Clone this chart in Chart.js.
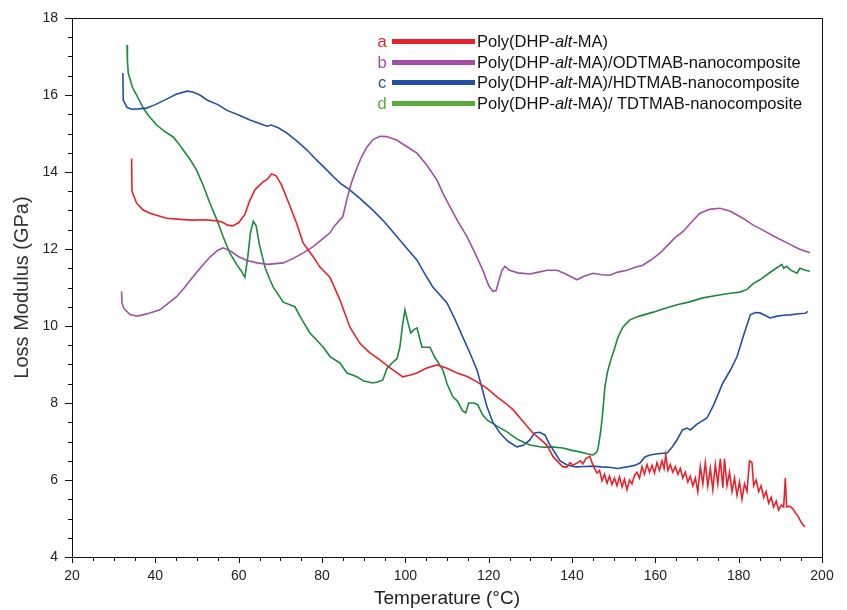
<!DOCTYPE html>
<html>
<head>
<meta charset="utf-8">
<script src="https://cdn.jsdelivr.net/npm/chart.js@4.4.1/dist/chart.umd.min.js"></script>
<style>
    body { margin: 0; background: #fff; }
    #wrap { position: relative; width: 847px; height: 610px; }
    #legend { position: absolute; left: 375px; top: 31px; font-family: 'Liberation Sans', Arial, sans-serif; font-size: 16.5px; color: #111; }
    .row { height: 20.7px; line-height: 20.7px; white-space: nowrap; display: flex; align-items: center; }
    .tag { width: 14px; text-align: center; margin-right: 3px; }
    .swatch { display: inline-block; width: 83px; height: 5px; margin-right: 2px; }
</style>
</head>
<body>
<div id="wrap">
    <canvas id="chart" width="847" height="610"></canvas>
    <div id="legend"></div>
</div>
<script>
// a: Poly(DHP-alt-MA)
const redT = [34.3, 34.4, 35.5, 37, 38.7, 42.7, 46, 49, 52, 54.7, 56, 57.4, 58.5, 60, 61.5, 62.7, 64, 65.9, 66.8, 67.9, 69, 70.3, 72, 73.9, 75.5, 77.9, 79.5, 81.9, 84.3, 86.7, 89.1, 91.5, 93.9, 96.5, 99.4, 101, 102.8, 105, 107.6, 110, 112.4, 115, 117.2, 119.6, 122, 124, 125.9, 128, 130.6, 132.5, 134, 135.5, 137.8,
    138.8, 139.5, 140.2, 141.2, 142, 142.6, 143.3, 144.3, 144.8, 145.4, 146, 146.6, 147.2, 147.8, 148.4, 149, 149.6, 150.2, 150.8, 151.4, 152, 152.6, 153.2, 153.8, 154.4, 155, 155.6, 156.2, 156.8, 157.4, 158, 158.6, 159.2, 159.8, 160.4, 161, 161.6, 162.1, 162.5, 163, 163.6, 164.2, 164.8, 165.4, 166, 166.6, 167.2, 167.8, 168.4, 169, 169.6, 170.2, 170.8, 171.4, 172, 172.6, 173.2, 173.8, 174.4, 175, 175.6, 176.2, 176.6, 177.2, 177.8, 178.4, 179, 179.6, 180.2, 180.8, 181.4, 182, 182.6, 183.2, 183.6, 184.2, 184.8, 185.4, 186, 186.6, 187.2, 187.8, 188.4, 189, 189.6, 190.2, 190.8, 191.2, 191.5, 192.3, 193, 193.6, 194.3, 195, 195.9];
const redG = [14.35, 13.5, 13.19, 13.02, 12.93, 12.8, 12.77, 12.75, 12.76, 12.73, 12.7, 12.62, 12.6, 12.68, 12.9, 13.27, 13.55, 13.75, 13.8, 13.95, 13.9, 13.66, 13.2, 12.67, 12.15, 11.8, 11.53, 11.27, 10.68, 9.97, 9.55, 9.3, 9.12, 8.9, 8.68, 8.72, 8.78, 8.9, 8.99, 8.9, 8.78, 8.68, 8.55, 8.38, 8.16, 8.0, 7.82, 7.55, 7.22, 7.05, 6.9, 6.6, 6.34,
    6.34, 6.45, 6.38, 6.44, 6.5, 6.42, 6.55, 6.62, 6.45, 6.3, 6.18, 6.25, 5.98, 6.15, 5.92, 6.1, 5.88, 6.05, 5.85, 6.08, 5.82, 6.02, 5.75, 6.0, 5.9, 6.12, 6.2, 6.05, 6.35, 6.15, 6.4, 6.2, 6.38, 6.18, 6.45, 6.25, 6.5, 6.3, 6.65, 6.25, 6.4, 6.2, 6.35, 6.15, 6.3, 6.05, 6.2, 5.95, 6.1, 5.85, 6.05, 5.7, 6.35, 5.9, 6.45, 5.85, 6.3, 5.75, 6.4, 5.9, 6.55, 5.8, 6.55, 5.85, 6.2, 5.7, 6.05, 5.6, 5.95, 5.5, 5.9, 5.7, 6.5, 6.45, 5.85, 6.0, 5.7, 5.85, 5.55, 5.7, 5.4, 5.55, 5.3, 5.45, 5.22, 5.35, 5.3, 6.05, 5.3, 5.32, 5.25, 5.15, 5.05, 4.9, 4.78];

// b: ODTMAB nanocomposite
const purpleT = [31.9, 32, 32.5, 33.9, 35.5, 36.3, 38.5, 41.1, 43, 45.1, 47, 49, 51, 53.1, 55, 56.3, 58, 60, 62, 64.4, 67, 70.7, 73, 75.5, 77.9, 80, 81.9, 83, 85, 86, 87, 87.9, 89.3, 90.8, 92.3, 93.9, 95.5, 97.9, 100.5, 102.8, 105, 107.6, 109, 110.7, 112.7, 114.8, 116.7, 118.6, 120, 121, 121.8, 122.5, 123.2, 123.9, 125, 127, 129.9, 132, 134, 136.4, 138.5, 141.2, 143, 145.1, 147, 149.1, 151, 153.2, 155, 157, 159, 161.1, 163, 164.8, 166.6, 168.7, 170.7, 173, 175.5, 178, 181, 183.5, 185.8, 188.7, 191.6, 194.5, 197.1];
const purpleG = [10.9, 10.6, 10.45, 10.3, 10.26, 10.27, 10.33, 10.42, 10.58, 10.76, 11.0, 11.27, 11.53, 11.79, 11.97, 12.03, 11.95, 11.8, 11.7, 11.64, 11.6, 11.64, 11.75, 11.9, 12.06, 12.25, 12.42, 12.6, 12.84, 13.3, 13.7, 13.97, 14.35, 14.65, 14.85, 14.93, 14.92, 14.83, 14.65, 14.49, 14.2, 13.79, 13.45, 13.1, 12.7, 12.32, 11.9, 11.45, 11.05, 10.9, 10.92, 11.2, 11.45, 11.55, 11.45, 11.38, 11.35, 11.4, 11.45, 11.45, 11.35, 11.2, 11.3, 11.37, 11.33, 11.32, 11.4, 11.45, 11.52, 11.58, 11.72, 11.89, 12.1, 12.3, 12.45, 12.7, 12.93, 13.03, 13.06, 12.98, 12.8, 12.62, 12.49, 12.32, 12.16, 12.0, 11.9];

// c: HDTMAB nanocomposite
const blueT = [32.2, 32.3, 33.2, 34.3, 36, 37.9, 40, 42.8, 45, 47.6, 49, 50.7, 52.4, 55, 57.2, 60, 62.7, 64.7, 66.8, 67.8, 69.5, 71.6, 74, 76.4, 78.8, 81.2, 83, 84.5, 86.5, 89, 92.2, 95, 98, 100.5, 102.8, 104.7, 106.6, 110, 111.8, 113.8, 115.5, 117.2, 118.5, 119.6, 121, 122.7, 124.7, 126.8, 128.3, 129.9, 131, 132.2, 133.5, 134.5, 135.5, 137.1, 138.8, 141, 143, 145.1, 147, 149, 151, 153.2, 155, 156.3, 157.5, 158.7, 160.5, 162.8, 164, 165.2, 166.5, 167.6, 168.4, 170, 172.4, 174, 176.2, 178, 179.6, 181.3, 182.8, 184, 185.1, 186.3, 187.5, 189, 190.7, 192.3, 194.5, 196, 196.6];
const blueG = [16.57, 15.87, 15.68, 15.63, 15.64, 15.66, 15.75, 15.9, 16.02, 16.1, 16.08, 16.0, 15.87, 15.75, 15.6, 15.48, 15.35, 15.27, 15.19, 15.22, 15.15, 15.01, 14.8, 14.57, 14.3, 14.05, 13.85, 13.7, 13.55, 13.32, 13.01, 12.7, 12.32, 12.0, 11.71, 11.35, 11.01, 10.6, 10.2, 9.71, 9.3, 8.86, 8.35, 7.9, 7.5, 7.22, 7.0, 6.86, 6.9, 7.04, 7.22, 7.24, 7.17, 6.95, 6.78, 6.5, 6.39, 6.34, 6.35, 6.36, 6.34, 6.33, 6.3, 6.34, 6.38, 6.44, 6.6, 6.65, 6.68, 6.7, 6.85, 7.04, 7.3, 7.35, 7.3, 7.45, 7.61, 7.95, 8.52, 8.85, 9.2, 9.8, 10.29, 10.35, 10.34, 10.28, 10.21, 10.25, 10.28, 10.29, 10.32, 10.33, 10.38];

// d: TDTMAB nanocomposite
const greenT = [33.2, 33.3, 33.5, 34.5, 35.5, 37.1, 38.5, 40.3, 42.3, 44.3, 45.5, 46.7, 48.3, 49.9, 51.5, 53.1, 54.8, 56.3, 57.9, 59.5, 60.5, 61.5, 62.2, 62.8, 63.5, 64.2, 65, 65.9, 66.3, 67.5, 68.3, 70.7, 73.5, 75, 77.1, 80.2, 82, 84.3, 86, 88.4, 90, 92.2, 93.5, 94.6, 95.6, 96.8, 98, 98.7, 99.3, 99.9, 100.6, 101.3, 102, 102.8, 103.4, 104, 105.9, 107, 109, 110, 111.4, 112.5, 113.7, 114.5, 115.2, 116.5, 117.4, 118.5, 119.6, 122, 124.4, 127, 129.9, 133, 135, 137.8, 140, 141.9, 143.6, 145.1, 146, 146.3, 146.8, 147.2, 147.9, 148.5, 149.1, 150.3, 151, 152.2, 153.9, 156, 159.5, 162, 165.2, 168, 171.4, 175, 178, 180.3, 182, 183.5, 185.1, 187, 189, 190.4, 190.8, 191.5, 192.5, 194, 194.7, 196, 197.1];
const greenG = [17.3, 16.9, 16.57, 16.2, 16.0, 15.66, 15.45, 15.22, 15.05, 14.91, 14.75, 14.57, 14.33, 14.05, 13.65, 13.19, 12.75, 12.31, 11.89, 11.6, 11.45, 11.27, 11.8, 12.4, 12.72, 12.6, 12.1, 11.71, 11.53, 11.2, 11.01, 10.62, 10.5, 10.2, 9.82, 9.46, 9.2, 9.04, 8.78, 8.68, 8.57, 8.52, 8.55, 8.6, 8.9, 9.04, 9.15, 9.46, 10.0, 10.42, 10.1, 9.82, 9.9, 9.95, 9.7, 9.45, 9.45, 9.2, 8.86, 8.5, 8.16, 8.05, 7.8, 7.74, 8.0, 8.0, 7.95, 7.7, 7.56, 7.4, 7.25, 7.05, 6.91, 6.85, 6.86, 6.83, 6.77, 6.73, 6.68, 6.65, 6.73, 6.86, 7.2, 7.56, 8.42, 8.8, 9.04, 9.45, 9.7, 9.97, 10.16, 10.25, 10.36, 10.45, 10.55, 10.62, 10.73, 10.8, 10.85, 10.88, 10.95, 11.1, 11.2, 11.35, 11.5, 11.6, 11.5, 11.55, 11.45, 11.37, 11.5, 11.45, 11.42];

const seriesTags = ['a', 'b', 'c', 'd'];
const seriesNames = [
    'Poly(DHP-<i>alt</i>-MA)',
    'Poly(DHP-<i>alt</i>-MA)/ODTMAB-nanocomposite',
    'Poly(DHP-<i>alt</i>-MA)/HDTMAB-nanocomposite',
    'Poly(DHP-<i>alt</i>-MA)/ TDTMAB-nanocomposite'
];
const lineColors = ['#e8222b', '#a24ea6', '#2250a2', '#1c8a3c'];
const legendColors = ['#e8222b', '#a24ea6', '#2250a2', '#5aab3a'];

const xTicks = [20, 40, 60, 80, 100, 120, 140, 160, 180, 200];
const yTicks = [4, 6, 8, 10, 12, 14, 16, 18];

function toPoints(t, g) {
    return t.map((v, i) => ({ x: v, y: g[i] }));
}

const FONT = "'Liberation Sans', Arial, sans-serif";

// Frame plus major / minor tick marks
const framePlugin = {
    id: 'frame',
    afterDraw(chart) {
        const { ctx, chartArea: a, scales } = chart;
        ctx.save();
        ctx.strokeStyle = '#111';
        ctx.lineWidth = 1;
        ctx.strokeRect(a.left + 0.5, a.top + 0.5, a.right - a.left, a.bottom - a.top);
        ctx.beginPath();
        for (let v = 20; v <= 200; v += 5) {
            const px = Math.round(scales.x.getPixelForValue(v)) + 0.5;
            const len = v % 20 === 0 ? 6 : 4;
            ctx.moveTo(px, a.bottom);
            ctx.lineTo(px, a.bottom + len);
        }
        for (let v = 4; v <= 18; v += 0.5) {
            const py = Math.round(scales.y.getPixelForValue(v)) + 0.5;
            const len = v % 2 === 0 ? 7 : 4;
            ctx.moveTo(a.left, py);
            ctx.lineTo(a.left - len, py);
        }
        ctx.stroke();
        ctx.restore();
    }
};

const datasets = [
    toPoints(redT, redG),
    toPoints(purpleT, purpleG),
    toPoints(blueT, blueG),
    toPoints(greenT, greenG)
].map((pts, i) => ({
    label: seriesTags[i],
    data: pts,
    borderColor: lineColors[i],
    borderWidth: 1.6,
    pointRadius: 0,
    tension: 0,
    fill: false
}));

new Chart(document.getElementById('chart'), {
    type: 'line',
    data: { datasets: datasets },
    options: {
        responsive: false,
        animation: false,
        layout: { padding: { left: 0, top: 18, right: 25, bottom: 0 } },
        plugins: { legend: { display: false }, tooltip: { enabled: false } },
        scales: {
            x: {
                type: 'linear',
                min: 20,
                max: 200,
                afterBuildTicks: s => { s.ticks = xTicks.map(v => ({ value: v })); },
                afterFit: s => { s.height = 53; },
                grid: { display: false },
                border: { display: false },
                ticks: { color: '#222', font: { family: FONT, size: 14 }, padding: 3, maxRotation: 0 },
                title: { display: true, text: 'Temperature (°C)', color: '#222', font: { family: FONT, size: 19 }, padding: { top: 0, bottom: 0 } }
            },
            y: {
                type: 'linear',
                min: 4,
                max: 18,
                afterBuildTicks: s => { s.ticks = yTicks.map(v => ({ value: v })); },
                afterFit: s => { s.width = 72; },
                grid: { display: false },
                border: { display: false },
                ticks: { color: '#222', font: { family: FONT, size: 14 }, padding: 6 },
                title: { display: true, text: 'Loss Modulus (GPa)', color: '#333', font: { family: FONT, size: 20 }, padding: { top: 10, bottom: 0 } }
            }
        }
    },
    plugins: [framePlugin]
});

// Legend (letters, thick swatches, names with italic "alt")
const legend = document.getElementById('legend');
seriesNames.forEach((name, i) => {
    const row = document.createElement('div');
    row.className = 'row';
    row.innerHTML = `<span class="tag" style="color:${legendColors[i]}">${seriesTags[i]}</span>` +
        `<span class="swatch" style="background:${legendColors[i]}"></span><span>${name}</span>`;
    legend.appendChild(row);
});
</script>
</body>
</html>
